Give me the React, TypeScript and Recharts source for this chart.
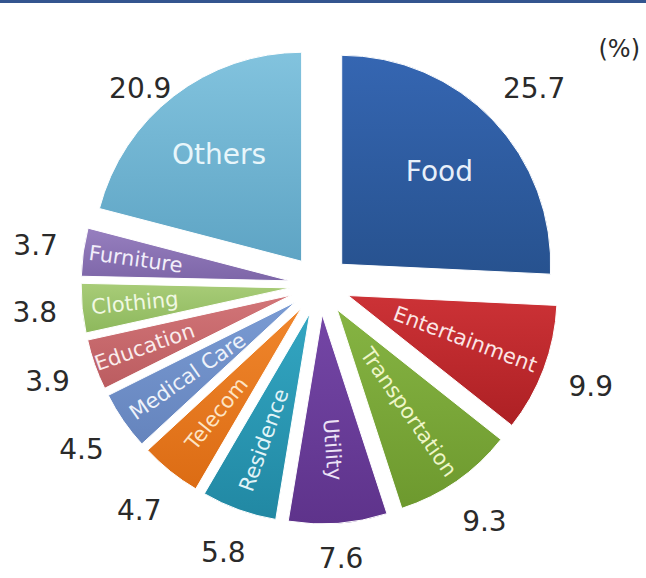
import { PieChart, Pie, Cell, Sector } from "recharts";

// household spending shares, clockwise from 12 o'clock
const categories = [
  "Food",
  "Entertainment",
  "Transportation",
  "Utility",
  "Residence",
  "Telecom",
  "Medical Care",
  "Education",
  "Clothing",
  "Furniture",
  "Others",
];
const shares = [25.7, 9.9, 9.3, 7.6, 5.8, 4.7, 4.5, 3.9, 3.8, 3.7, 20.9];

const topColors = [
  "#3566b2", "#cc3236", "#86b443", "#7446a6", "#33a6c2", "#f0862c",
  "#7a9bd3", "#d27578", "#a8cc78", "#977fbf", "#82c3de",
];
const bottomColors = [
  "#27528f", "#ad2024", "#6d992e", "#5e338b", "#2188a3", "#dc6c14",
  "#6584bd", "#bb5c60", "#8db85c", "#7d66a8", "#5ea4c4",
];
const textColors = [
  "#e8f0fa", "#fbe6e6", "#eef6c8", "#ece2f6", "#e2f4f8", "#fde4c4",
  "#eef2fa", "#faecec", "#f0f8e2", "#f2eefa", "#e8f6fb",
];

const data = categories.map((name, i) => ({ name, value: shares[i] }));

const RAD = Math.PI / 180;
const EXPLODE = 30;
const FONT = "'DejaVu Sans', Verdana, sans-serif";
const VALUE_SIZE = 28;

function SliceLabel(props: any) {
  const { cx, cy, midAngle, startAngle, endAngle, outerRadius, index, value } = props;
  const ux = Math.cos(-midAngle * RAD);
  const uy = Math.sin(-midAngle * RAD);
  const name = categories[index];
  const big = value > 15;
  let labelR = 165;
  if (value < 4) labelR = 186;
  else if (name.length > 12) labelR = 155;
  else if (name.length > 10) labelR = 161;
  const lx = cx + labelR * ux;
  const ly = cy + labelR * uy;

  // outside-end value label: keep the box clear of the slice edge
  const txt = value.toFixed(1);
  const w = ((txt.length - 1) * 0.636 + 0.318) * VALUE_SIZE;
  const ext = Math.abs(ux) * (w / 2) + Math.abs(uy) * 15;
  const vr = 263 + ext;
  const vx = cx + vr * ux;
  const vy = Math.min(Math.max(cy + vr * uy, 88), 558);

  let rot = 0;
  if (!big) rot = ux >= 0 ? -midAngle : 180 - midAngle;
  return (
    <g>
      <defs>
        <linearGradient id={`slice-${index}`} x1="0" y1="0" x2="0" y2="1">
          <stop offset="0%" stopColor={topColors[index]} />
          <stop offset="100%" stopColor={bottomColors[index]} />
        </linearGradient>
      </defs>
      <Sector
        cx={cx + EXPLODE * ux}
        cy={cy + EXPLODE * uy}
        innerRadius={0}
        outerRadius={outerRadius}
        startAngle={startAngle}
        endAngle={endAngle}
        fill={`url(#slice-${index})`}
        stroke="#ffffff"
        strokeWidth={1}
      />
      <text
        x={lx}
        y={ly}
        transform={`rotate(${rot} ${lx} ${ly})`}
        textAnchor="middle"
        dominantBaseline="central"
        fill={textColors[index]}
        fontSize={big ? 28 : 21}
        fontFamily={FONT}
      >
        {name}
      </text>
      <text
        x={vx}
        y={vy}
        textAnchor="middle"
        dominantBaseline="central"
        fill="#2a2a2a"
        fontSize={VALUE_SIZE}
        fontFamily={FONT}
      >
        {txt}
      </text>
    </g>
  );
}

export default function App() {
  return (
    <div style={{ position: "absolute", left: 0, top: 0, width: 646, height: 578, background: "#ffffff" }}>
      <div style={{ position: "absolute", left: 0, top: 0, width: 646, height: 3, background: "#34558f" }} />
      <div
        style={{
          position: "absolute",
          right: 6,
          top: 35,
          fontFamily: FONT,
          fontSize: 24,
          color: "#2a2a2a",
        }}
      >
        (%)
      </div>
      <PieChart width={646} height={578} margin={{ top: 0, right: 0, bottom: 0, left: 0 }}>
        <Pie
          data={data}
          dataKey="value"
          nameKey="name"
          cx={320}
          cy={285}
          innerRadius={0}
          outerRadius={209}
          startAngle={90}
          endAngle={-270}
          stroke="none"
          label={SliceLabel}
          labelLine={false}
          isAnimationActive={false}
        >
          {data.map((d) => (
            <Cell key={d.name} fill="transparent" />
          ))}
        </Pie>
      </PieChart>
    </div>
  );
}
